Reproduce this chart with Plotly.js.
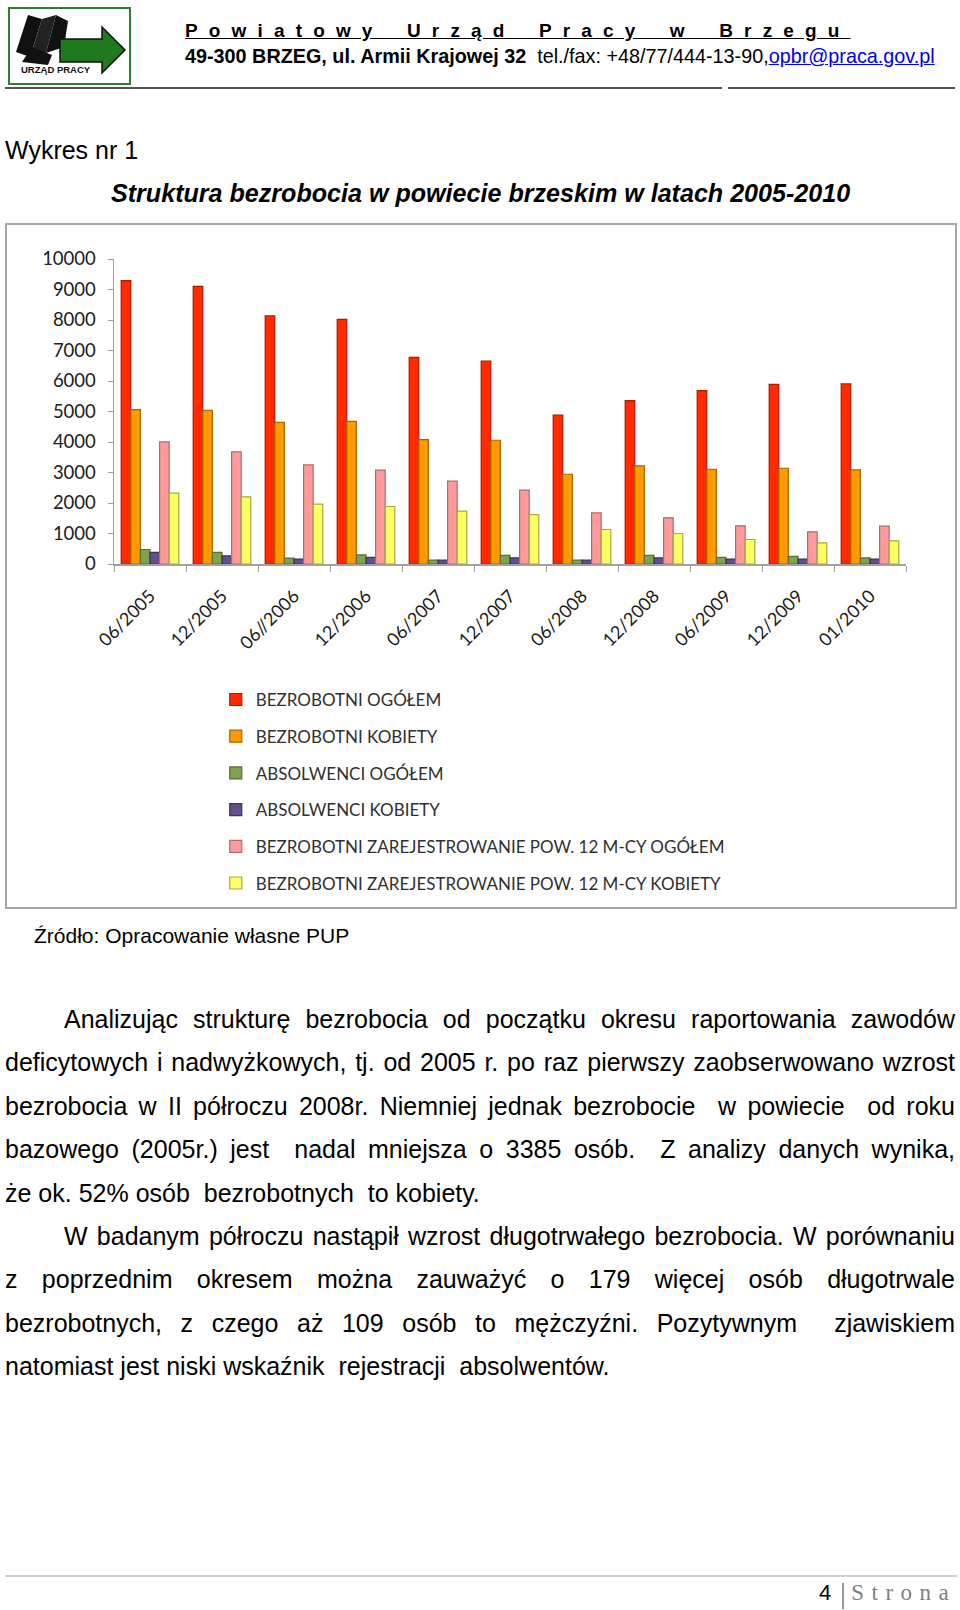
<!DOCTYPE html>
<html>
<head>
<meta charset="utf-8">
<script src="https://cdn.plot.ly/plotly-3.0.1.min.js"></script>
<style>
  html, body { margin:0; padding:0; background:#fff; }
  body { width:960px; height:1610px; position:relative; overflow:hidden; }
  .abs { position:absolute; white-space:nowrap; }
  .doc { font-family:"Liberation Sans", Arial, sans-serif; }
  #chart { position:absolute; left:5px; top:223px; width:952px; height:686px; box-sizing:border-box; border:2px solid #a6a6a6; }
  .line { position:absolute; left:5px; width:950px; height:43.4px; line-height:43.4px; font-size:25px; color:#000; white-space:nowrap; }
  .just { text-align:justify; text-align-last:justify; white-space:normal; }
</style>
</head>
<body class="doc">
<!-- logo -->
<svg class="abs" style="left:8px;top:7px" width="124" height="79" viewBox="0 0 124 79">
  <rect x="1" y="1" width="121" height="76" fill="#fff" stroke="#2f7d32" stroke-width="2"/>
  <polygon points="8,45 20,8 34,12 22,50" fill="#111"/>
  <polygon points="22,50 34,12 48,8 38,46" fill="#222"/>
  <polygon points="38,46 48,8 60,14 56,40" fill="#111"/>
  <polygon points="14,55 24,40 44,48 40,58" fill="#111"/>
  <polygon points="52,32 94,32 94,20 117,43 94,66 94,55 52,55" fill="#1f7a1f" stroke="#111" stroke-width="1.5"/>
  <text x="13" y="66" font-family="Liberation Sans, Arial, sans-serif" font-weight="bold" font-size="9.5" fill="#111">URZĄD PRACY</text>
</svg>
<div class="abs" style="left:185px;top:20px;font-size:19px;font-weight:bold;letter-spacing:11.15px;word-spacing:7px;text-decoration:underline;">Powiatowy Urząd Pracy w Brzegu</div>
<div class="abs" style="left:185px;top:45px;font-size:19.8px;"><b>49-300 BRZEG, ul. Armii Krajowej 32</b>&nbsp; tel./fax: +48/77/444-13-90,<span style="color:#0000ee;text-decoration:underline;">opbr@praca.gov.pl</span></div>
<div class="abs" style="left:5px;top:87px;width:717px;height:2px;background:#555;"></div>
<div class="abs" style="left:728px;top:87px;width:227px;height:2px;background:#555;"></div>

<div class="abs" style="left:5px;top:135.6px;font-size:25px;">Wykres nr 1</div>
<div class="abs" style="left:111px;top:178.6px;font-size:25.1px;font-weight:bold;font-style:italic;">Struktura bezrobocia w powiecie brzeskim w latach 2005-2010</div>

<div id="chart"></div>

<div class="abs" style="left:34px;top:924px;font-size:21px;">Źródło: Opracowanie własne PUP</div>

<div>
  <div class="line just" style="top:998px;padding-left:59px;width:891px;">Analizując strukturę bezrobocia od początku okresu raportowania zawodów</div>
  <div class="line just" style="top:1041.4px;">deficytowych i nadwyżkowych, tj. od 2005 r. po raz pierwszy zaobserwowano wzrost</div>
  <div class="line just" style="top:1084.8px;">bezrobocia w II półroczu 2008r. Niemniej jednak bezrobocie&nbsp; w powiecie&nbsp; od roku</div>
  <div class="line just" style="top:1128.2px;">bazowego (2005r.) jest&nbsp; nadal mniejsza o 3385 osób.&nbsp; Z analizy danych wynika,</div>
  <div class="line" style="top:1171.6px;">że ok. 52% osób&nbsp; bezrobotnych&nbsp; to kobiety.</div>
  <div class="line just" style="top:1215px;padding-left:59px;width:891px;">W badanym półroczu nastąpił wzrost długotrwałego bezrobocia. W porównaniu</div>
  <div class="line just" style="top:1258.4px;">z poprzednim okresem można zauważyć o 179 więcej osób długotrwale</div>
  <div class="line just" style="top:1301.8px;">bezrobotnych, z czego aż 109 osób to mężczyźni. Pozytywnym&nbsp; zjawiskiem</div>
  <div class="line" style="top:1345.2px;">natomiast jest niski wskaźnik&nbsp; rejestracji&nbsp; absolwentów.</div>
</div>

<div class="abs" style="left:5px;top:1575px;width:952px;height:2px;background:#d0d0d0;"></div>
<div class="abs" style="left:819px;top:1578px;height:30px;line-height:30px;">
  <span style="font-size:22px;color:#000;">4</span><span style="display:inline-block;width:2px;height:26px;background:#999;margin:0 7px 0 11px;vertical-align:middle;"></span><span style="font-family:'Liberation Serif','DejaVu Serif',serif;font-size:23px;color:#7f7f7f;letter-spacing:7.5px;">Strona</span>
</div>

<script>
const categories = ['06/2005','12/2005','06//2006','12/2006','06/2007','12/2007','06/2008','12/2008','06/2009','12/2009','01/2010'];
const bezrobotniOgolem   = [9290, 9100, 8140, 8020, 6775, 6655, 4886, 5356, 5684, 5891, 5905];
const bezrobotniKobiety  = [5059, 5037, 4646, 4679, 4079, 4057, 2943, 3216, 3107, 3140, 3085];
const absolwenciOgolem   = [476, 378, 192, 301, 127, 280, 127, 280, 214, 247, 203];
const absolwenciKobiety  = [378, 269, 160, 214, 127, 203, 127, 203, 160, 160, 160];
const dlugotrwaleOgolem  = [4002, 3675, 3249, 3075, 2715, 2419, 1677, 1513, 1251, 1054, 1240];
const dlugotrwaleKobiety = [2321, 2201, 1961, 1885, 1732, 1622, 1131, 1000, 804, 694, 760];
const seriesNames = ['BEZROBOTNI OGÓŁEM','BEZROBOTNI KOBIETY','ABSOLWENCI OGÓŁEM','ABSOLWENCI KOBIETY','BEZROBOTNI ZAREJESTROWANIE POW. 12 M-CY OGÓŁEM','BEZROBOTNI ZAREJESTROWANIE POW. 12 M-CY KOBIETY'];
const yTicks = [0,1000,2000,3000,4000,5000,6000,7000,8000,9000,10000];

const seriesValues = [bezrobotniOgolem, bezrobotniKobiety, absolwenciOgolem, absolwenciKobiety, dlugotrwaleOgolem, dlugotrwaleKobiety];
const fills = ['#FF2A00','#FF9900','#7FA34C','#66508C','#FF9B9B','#FFFF66'];
const edges = ['#A81C00','#A86500','#55702F','#3F3060','#B06B6B','#A8A83A'];

const traces = seriesValues.map((vals, i) => ({
  type:'bar', x:categories, y:vals, name:seriesNames[i], legendgroup:'g'+i,
  marker:{color:fills[i], line:{color:edges[i], width:1.2}},
  hoverinfo:'skip'
}));

const layout = {
  width:948, height:682,
  margin:{l:107, r:49, t:33.5, b:343, autoexpand:false},
  paper_bgcolor:'#fff', plot_bgcolor:'#fff',
  barmode:'group', bargap:0.2, bargroupgap:0,
  showlegend:true,
  font:{family:'Lato, "Open Sans", sans-serif', color:'#404040'},
  xaxis:{type:'category', tickangle:-45, tickfont:{size:18, color:'#202020'}, ticklabelstandoff:13,
    showline:true, linecolor:'#a0a0a0', linewidth:1.5, ticks:'outside', tickson:'boundaries',
    ticklen:6, tickcolor:'#a0a0a0', showgrid:false, zeroline:false, range:[-0.5,10.5], automargin:false},
  yaxis:{range:[0,10000], tickvals:yTicks, ticktext:yTicks.map(String), tickfont:{size:18.5, color:'#202020'}, ticklabelstandoff:8,
    showline:true, linecolor:'#a0a0a0', linewidth:1.5, ticks:'outside', ticklen:5, tickcolor:'#a0a0a0',
    showgrid:false, zeroline:false, automargin:false},
  legend:{orientation:'v', xref:'container', yref:'container', x:0.2202, xanchor:'left', y:0.33, yanchor:'top',
    traceorder:'grouped', tracegroupgap:11.6, font:{size:17, color:'#303030'}, itemwidth:30, bgcolor:'rgba(0,0,0,0)'}
};

Plotly.newPlot('chart', traces, layout, {displayModeBar:false, staticPlot:true});
</script>
</body>
</html>
